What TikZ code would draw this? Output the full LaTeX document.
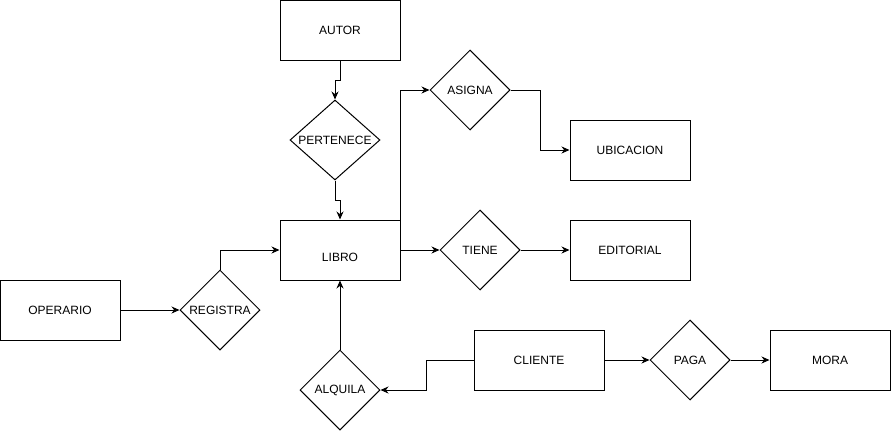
\documentclass[tikz,border=0pt]{standalone}
\usepackage{fontspec}
\setmainfont{Liberation Sans}
\usetikzlibrary{arrows.meta,positioning,shapes.geometric}

\tikzset{
  ent/.style={draw, rectangle, line width=1pt, minimum width=120pt, minimum height=60pt, inner sep=0pt},
  rel/.style={draw, diamond, line width=1pt, minimum width=80pt, minimum height=80pt, inner sep=0pt},
  conn/.style={line width=1pt, -{Stealth[length=8pt,width=7pt]}}
}
\newcommand{\lbl}[1]{\makebox[0pt]{#1}}

\begin{document}
\begin{tikzpicture}[x=1pt, y=-1pt, font=\fontsize{12}{14}\selectfont]
    \useasboundingbox (0,0) rectangle (891,431);
    % entities
    \node[ent] (autor) at (340,30) {AUTOR};
    \node[ent] (libro) at (340,250) {\raisebox{-7pt}[\height][\depth]{LIBRO}};
    \node[ent] (ubic) at (630,150) {UBICACION};
    \node[ent] (edit) at (630,250) {EDITORIAL};
    \node[ent] (oper) at (60,310) {OPERARIO};
    \node[ent, minimum width=130pt] (cli) at (539,360) {CLIENTE};
    \node[ent] (mora) at (830,360) {MORA};
    % relations
    \node[rel, minimum width=90pt] (pert) at (335,140) {\lbl{PERTENECE}};
    \node[rel] (asigna) at (470,90) {\lbl{ASIGNA}};
    \node[rel] (tiene) at (480,250) {\lbl{TIENE}};
    \node[rel] (reg) at (220,310) {\lbl{REGISTRA}};
    \node[rel] (alq) at (340,390) {\lbl{ALQUILA}};
    \node[rel] (paga) at (690,360) {\lbl{PAGA}};
    % connectors
    \draw[conn] (autor.south) -- ++(0,20) -| (pert.north);
    \draw[conn] (pert.south) -- ++(0,20) -| (libro.north);
    \draw[conn] (libro.north east) |- (asigna.west);
    \draw[conn] (asigna.east) -- ++(30,0) |- (ubic.west);
    \draw[conn] (libro.east) -- (tiene.west);
    \draw[conn] (tiene.east) -- (edit.west);
    \draw[conn] (oper.east) -- (reg.west);
    \draw[conn] (reg.north) |- (libro.west);
    \draw[conn] (alq.north) -- (libro.south);
    \draw[conn] (cli.west) -- ++(-47,0) |- (alq.east);
    \draw[conn] (cli.east) -- (paga.west);
    \draw[conn] (paga.east) -- (mora.west);
\end{tikzpicture}
\end{document}
